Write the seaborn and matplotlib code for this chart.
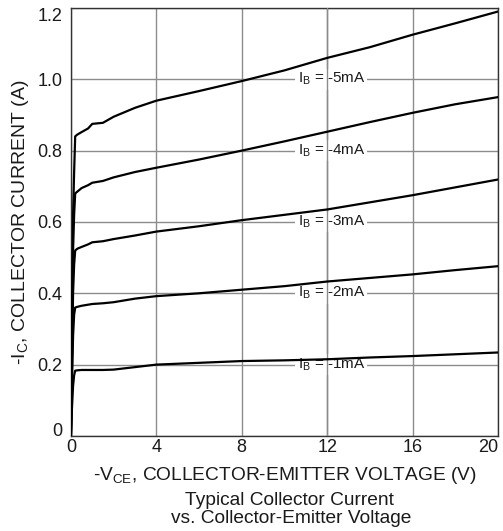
import numpy as np
import pandas as pd
import matplotlib
matplotlib.use("Agg")
import matplotlib.pyplot as plt
import seaborn as sns

# Collector-emitter voltage samples (V)
vce = [0.0, 0.05, 0.1, 0.15, 0.2, 0.3, 0.5, 0.8, 1.0, 1.5, 2.0, 3.0, 4.0, 6.0, 8.0, 10.0, 12.0, 14.0, 16.0, 18.0, 20.0]

# Collector current (A) for each base-current step
ic_5ma = [0.0, 0.30, 0.62, 0.74, 0.84, 0.845, 0.852, 0.862, 0.875, 0.878, 0.895, 0.92, 0.94, 0.967, 0.995, 1.025, 1.06, 1.09, 1.125, 1.157, 1.19]
ic_4ma = [0.0, 0.25, 0.52, 0.62, 0.68, 0.685, 0.695, 0.703, 0.71, 0.715, 0.725, 0.74, 0.752, 0.775, 0.80, 0.826, 0.853, 0.88, 0.906, 0.93, 0.95]
ic_3ma = [0.0, 0.20, 0.40, 0.48, 0.52, 0.525, 0.53, 0.537, 0.543, 0.546, 0.552, 0.562, 0.573, 0.588, 0.605, 0.62, 0.635, 0.655, 0.675, 0.697, 0.719]
ic_2ma = [0.0, 0.15, 0.28, 0.34, 0.36, 0.362, 0.365, 0.368, 0.37, 0.372, 0.375, 0.385, 0.392, 0.40, 0.41, 0.42, 0.433, 0.443, 0.453, 0.465, 0.476]
ic_1ma = [0.0, 0.08, 0.14, 0.17, 0.183, 0.184, 0.185, 0.185, 0.185, 0.185, 0.186, 0.193, 0.20, 0.205, 0.21, 0.212, 0.215, 0.22, 0.224, 0.229, 0.234]

series_names = ["-5mA", "-4mA", "-3mA", "-2mA", "-1mA"]
series_values = [ic_5ma, ic_4ma, ic_3ma, ic_2ma, ic_1ma]
label_levels = [1.0, 0.8, 0.6, 0.4, 0.2]

x_ticks = [0, 4, 8, 12, 16, 20]
x_tick_labels = ["0", "4", "8", "12", "16", "20"]
y_ticks = [0, 0.2, 0.4, 0.6, 0.8, 1.0, 1.2]
y_tick_labels = ["0", "0.2", "0.4", "0.6", "0.8", "1.0", "1.2"]

df = pd.concat(
    [pd.DataFrame({"vce": vce, "ic": vals, "ib": name}) for name, vals in zip(series_names, series_values)],
    ignore_index=True,
)

sns.set_theme(style="whitegrid")
plt.rcParams["font.family"] = ["Liberation Sans", "DejaVu Sans"]
plt.rcParams["mathtext.default"] = "regular"

fig = plt.figure(figsize=(5.03, 5.31), dpi=100)
ax = fig.add_axes([0.141, 0.179, 0.849, 0.806])

grid_color = "#8c8c8c"
text_color = "#1a1a1a"
sns.lineplot(data=df, x="vce", y="ic", hue="ib", palette=["black"] * 5,
             linewidth=1.6, legend=False, ax=ax, zorder=5, estimator=None, sort=False)

ax.set_xlim(0, 20)
ax.set_ylim(0, 1.2)
ax.set_xticks(x_ticks)
ax.set_xticklabels(x_tick_labels)
ax.set_yticks(y_ticks)
ax.set_yticklabels(y_tick_labels)
ax.tick_params(axis="both", labelsize=13, colors=text_color, length=0)
ax.tick_params(axis="y", pad=6)
ax.tick_params(axis="x", pad=2)
ax.grid(True, color=grid_color, linewidth=1.0)

# Keep the end tick labels inside the figure
ax.get_xticklabels()[-1].set_horizontalalignment("right")
ax.get_xticklabels()[-1].set_x(20.1)
ax.get_yticklabels()[-1].set_verticalalignment("top")
ax.get_yticklabels()[0].set_verticalalignment("baseline")

for spine in ax.spines.values():
    spine.set_color("#333333")
    spine.set_linewidth(1.0)

# Base-current labels sitting on the horizontal gridlines
for name, level in zip(series_names, label_levels):
    ax.text(12.2, level, "I$_B$ = " + name, fontsize=11, ha="center", va="center",
            color=text_color, zorder=3,
            bbox=dict(facecolor="white", edgecolor="none", pad=1.5))
ax.axvline(12, color=grid_color, linewidth=1.0, zorder=3.5)

ax.set_xlabel("")
ax.set_ylabel("-I$_C$, COLLECTOR CURRENT (A)", fontsize=14, color=text_color, labelpad=5)

fig.text(0.567, 0.096, "-V$_{CE}$, COLLECTOR-EMITTER VOLTAGE (V)", ha="center", va="baseline",
         fontsize=13.8, color=text_color)
fig.text(0.576, 0.049, "Typical Collector Current", ha="center", va="baseline",
         fontsize=13.8, color=text_color)
fig.text(0.578, 0.015, "vs. Collector-Emitter Voltage", ha="center", va="baseline",
         fontsize=13.8, color=text_color)

fig.savefig("out.png", dpi=100, facecolor="white")
